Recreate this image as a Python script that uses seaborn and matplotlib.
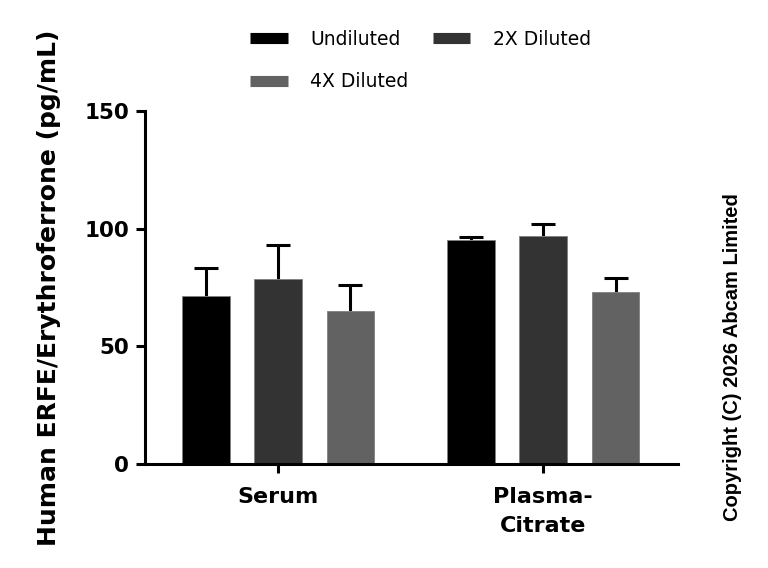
# ERFE levels by sample type and dilution

import pandas as pd
import numpy as np
import seaborn as sns
import matplotlib.pyplot as plt
from matplotlib.lines import Line2D

# --- Data ---
samples = ["Serum", "Plasma-\nCitrate"]
dilutions = ["Undiluted", "2X Diluted", "4X Diluted"]
serum_mean = [71.5, 78.7, 64.9]
serum_sd = [11.9, 14.2, 11.2]
plasma_mean = [95.3, 96.9, 73.1]
plasma_sd = [1.2, 5.1, 5.9]
colors = ["#000000", "#333333", "#626262"]

df = pd.DataFrame({
    "sample": [samples[0]] * 3 + [samples[1]] * 3,
    "dilution": dilutions * 2,
    "mean": serum_mean + plasma_mean,
    "sd": serum_sd + plasma_sd,
})

# --- Plotting ---
sns.set_style("ticks")
plt.rcParams["font.family"] = ["DejaVu Sans"]
plt.rcParams["text.color"] = "black"
plt.rcParams["axes.labelcolor"] = "black"
plt.rcParams["xtick.color"] = "black"
plt.rcParams["ytick.color"] = "black"
plt.rcParams["axes.edgecolor"] = "black"

fig = plt.figure(figsize=(7.68, 5.68), dpi=100)
ax = fig.add_axes([0.1888, 0.1831, 0.694, 0.6215])

sns.barplot(data=df, x="sample", y="mean", hue="dilution", order=samples,
            hue_order=dilutions, palette=colors, width=0.82, gap=0.34,
            errorbar=None, saturation=1, edgecolor="#808080", linewidth=0.6,
            legend=False, ax=ax)

# upper-only error bars (hide the lower cap)
for cont, dil in zip(list(ax.containers), dilutions):
    sub = df[df["dilution"] == dil].set_index("sample").loc[samples]
    xs = [b.get_x() + b.get_width() / 2 for b in cont]
    eb = ax.errorbar(xs, sub["mean"], yerr=[np.zeros(len(xs)), sub["sd"]],
                     fmt="none", ecolor="black", elinewidth=2.2, capsize=8.5,
                     capthick=2.2, zorder=0.5)
    eb[1][0].set_visible(False)

ax.set_xlim(-0.502, 1.509)
ax.set_ylim(0, 150)
ax.set_yticks([0, 50, 100, 150])
ax.set_xlabel("")
ax.set_ylabel("Human ERFE/Erythroferrone (pg/mL)", fontsize=18,
              fontweight="bold", labelpad=17)
for s in ["top", "right"]:
    ax.spines[s].set_visible(False)
for s in ["left", "bottom"]:
    ax.spines[s].set_linewidth(2.2)
ax.tick_params(axis="both", width=2.2, length=6.5, labelsize=16)
ax.tick_params(axis="y", pad=5, labelsize=15.5)
ax.tick_params(axis="x", pad=10)
for lab in ax.get_xticklabels() + ax.get_yticklabels():
    lab.set_fontweight("bold")
for lab in ax.get_xticklabels():
    lab.set_linespacing(1.55)

# legend rows: Undiluted, 2X Diluted / 4X Diluted (column-major fill)
order = [0, 2, 1]
handles = [Line2D([0], [0], color=colors[i], lw=8, solid_capstyle="butt")
           for i in order]
fig.legend(handles, [dilutions[i] for i in order], loc="upper left", ncol=2,
           frameon=False, bbox_to_anchor=(250 / 768, 1 - 30 / 568),
           borderaxespad=0, borderpad=0, fontsize=13.5, handlelength=2.0,
           handletextpad=1.2, columnspacing=1.3, labelspacing=1.25)

fig.text(733 / 768, 1 - 357 / 568, "Copyright (C) 2026 Abcam Limited",
         rotation=90, ha="center", va="center", fontsize=14.5,
         fontweight="bold", family=["Liberation Sans"])

fig.savefig("out.png", dpi=100)
